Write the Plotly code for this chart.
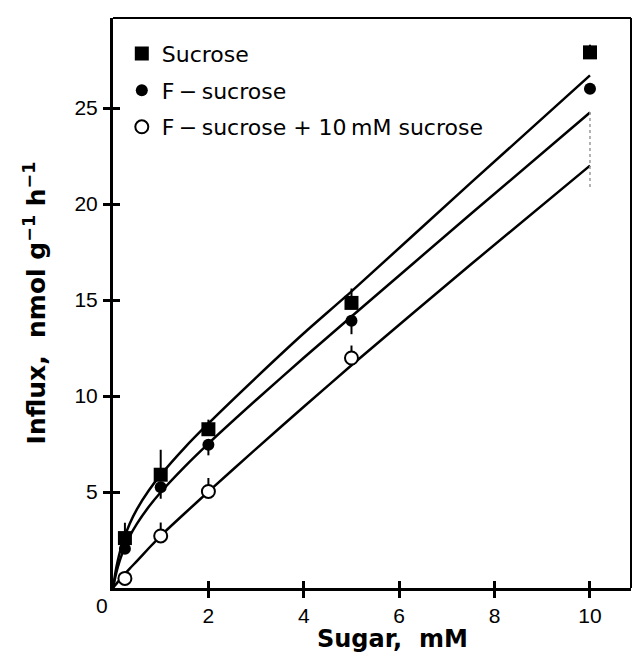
import plotly.graph_objects as go

# Measured points
sugar_mM = [0.25, 1, 2, 5, 10]
sucrose = [2.6, 5.9, 8.27, 14.85, 27.9]
sucrose_err_up = [0.8, 1.3, 0.5, 0.75, 0.4]
f_sucrose = [2.05, 5.25, 7.46, 13.92, 26.0]
f_sucrose_err_down = [0.0, 0.6, 0.55, 0.7, 0.0]
sugar_open = [0.25, 1, 2, 5]
f_plus_sucrose = [0.5, 2.71, 5.03, 11.98]
f_plus_err_up = [0.0, 0.7, 0.7, 0.65]

# Fitted curves
curve_x = [0, 0.05, 0.1, 0.2, 0.35, 0.5, 0.75, 1, 1.5, 2, 3, 4, 5, 7.5, 10]
curve_sucrose = [0, 0.80, 1.42, 2.36, 3.35, 4.10, 5.08, 5.89, 7.30, 8.57, 10.96, 13.27, 15.45, 21.1, 26.7]
curve_f_sucrose = [0, 0.59, 1.08, 1.84, 2.69, 3.34, 4.23, 4.99, 6.31, 7.52, 9.79, 11.99, 14.14, 19.48, 24.77]
curve_f_plus = [0, 0.16, 0.31, 0.60, 1.01, 1.40, 2.07, 2.72, 3.88, 5.02, 7.25, 9.44, 11.6, 16.85, 22.0]

# faint dotted error bars at 10 mM
faint_x = [10, 10]
faint_y = [24.8, 20.8]

x_ticks = [2, 4, 6, 8, 10]
y_ticks = [5, 10, 15, 20, 25]

TICKFONT = "Liberation Sans, Arial, Helvetica, sans-serif"
TEXTFONT = "DejaVu Sans, Verdana, sans-serif"
X_RANGE = [0, 10.86]
Y_RANGE = [0, 29.69]

fig = go.Figure()

for cy in (curve_sucrose, curve_f_sucrose, curve_f_plus):
    fig.add_trace(go.Scatter(x=curve_x, y=cy, mode="lines", showlegend=False,
                             line=dict(color="black", width=2.5, shape="spline", smoothing=0.6),
                             hoverinfo="skip"))

fig.add_trace(go.Scatter(x=faint_x, y=faint_y, mode="lines", showlegend=False,
                         line=dict(color="#999999", width=1.5, dash="dot"), hoverinfo="skip"))

fig.add_trace(go.Scatter(x=sugar_mM, y=sucrose, mode="markers", name="Sucrose",
                         legendgroup="a",
                         marker=dict(symbol="square", size=14, color="black"),
                         error_y=dict(type="data", symmetric=False, array=sucrose_err_up,
                                      arrayminus=[0]*5, width=0, thickness=2, color="black")))
fig.add_trace(go.Scatter(x=sugar_mM, y=f_sucrose, mode="markers", name="F\u2009\u2212\u2009sucrose",
                         legendgroup="b",
                         marker=dict(symbol="circle", size=12, color="black"),
                         error_y=dict(type="data", symmetric=False, array=[0]*5,
                                      arrayminus=f_sucrose_err_down, width=0, thickness=2, color="black")))
fig.add_trace(go.Scatter(x=sugar_open, y=f_plus_sucrose, mode="markers",
                         name="F\u2009\u2212\u2009sucrose + 10\u2009mM sucrose",
                         legendgroup="c",
                         marker=dict(symbol="circle", size=13, color="white",
                                     line=dict(color="black", width=2)),
                         error_y=dict(type="data", symmetric=False, array=f_plus_err_up,
                                      arrayminus=[0]*4, width=0, thickness=2, color="black")))

# overlay trace for inner ticks
fig.add_trace(go.Scatter(x=[None], y=[None], xaxis="x2", yaxis="y2", showlegend=False))

fig.update_layout(
    width=625, height=648,
    margin=dict(l=105, r=2, t=10, b=68),
    paper_bgcolor="white", plot_bgcolor="white",
    font=dict(family=TEXTFONT, color="black", size=22),
    showlegend=True,
    legend=dict(x=0.017, y=0.974, xanchor="left", yanchor="top",
                bgcolor="rgba(0,0,0,0)", font=dict(size=22, family=TEXTFONT),
                tracegroupgap=5, itemsizing="trace"),
    xaxis=dict(range=X_RANGE, showgrid=False, zeroline=False,
               showline=True, linecolor="black", linewidth=3,
               ticks="outside", ticklen=7, tickwidth=3, tickcolor="black",
               tickvals=x_ticks, ticktext=[str(v) for v in x_ticks],
               tickfont=dict(size=21, family=TICKFONT), ticklabelstandoff=0,
               automargin=False),
    yaxis=dict(range=Y_RANGE, showgrid=False, zeroline=False,
               showline=True, linecolor="black", linewidth=3,
               ticks="outside", ticklen=7, tickwidth=3, tickcolor="black",
               tickvals=y_ticks, ticktext=[str(v) for v in y_ticks],
               tickfont=dict(size=21, family=TICKFONT), ticklabelstandoff=1,
               automargin=False,
               title=dict(text="<b>Influx,  nmol g<sup>\u22121</sup> h<sup>\u22121</sup></b>",
                          font=dict(size=25, family=TEXTFONT), standoff=22)),
    xaxis2=dict(range=X_RANGE, overlaying="x", showgrid=False, zeroline=False,
                showline=False, ticks="inside", ticklen=7, tickwidth=3, tickcolor="black",
                tickvals=x_ticks, showticklabels=False, side="bottom"),
    yaxis2=dict(range=Y_RANGE, overlaying="y", showgrid=False, zeroline=False,
                showline=False, ticks="inside", ticklen=7, tickwidth=3, tickcolor="black",
                tickvals=y_ticks, showticklabels=False, side="left"),
    shapes=[
        dict(type="line", xref="paper", yref="paper", x0=0, x1=1, y0=1, y1=1,
             line=dict(color="black", width=2)),
        dict(type="line", xref="paper", yref="paper", x0=1, x1=1, y0=0, y1=1,
             line=dict(color="black", width=2)),
    ],
    annotations=[
        dict(text="0", xref="paper", yref="paper", x=0, y=0, xanchor="right", yanchor="top",
             xshift=-3, yshift=-4, showarrow=False, font=dict(size=21, family=TICKFONT)),
        dict(text="<b>Sugar,  mM</b>", xref="paper", yref="paper", x=0.54, y=0,
             xanchor="center", yanchor="middle", yshift=-51, showarrow=False,
             font=dict(size=24, family=TEXTFONT)),
    ],
)

fig.write_html("out.html")
